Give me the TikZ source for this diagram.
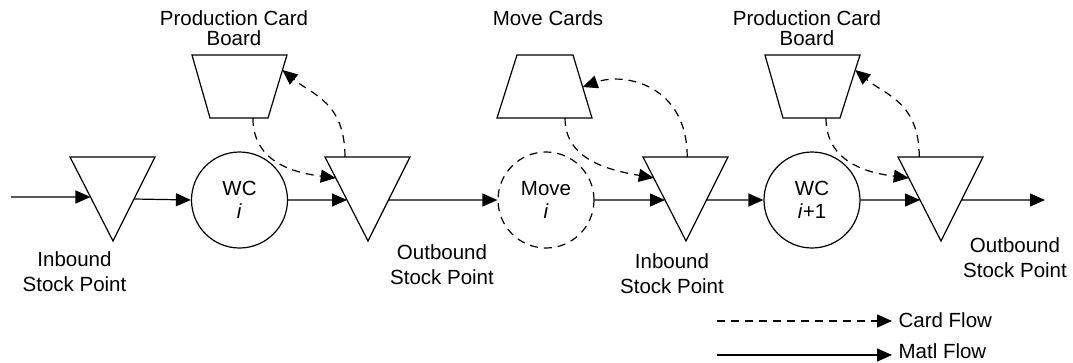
\documentclass[tikz,border=0pt]{standalone}
\usepackage{fontspec}
\setmainfont{Liberation Sans}
\usetikzlibrary{arrows.meta,calc}

\begin{document}
\begin{tikzpicture}[x=1pt,y=-1pt,
  line width=1.2pt,
  flow/.style={-{Triangle[length=15pt,width=13pt]}},
  card/.style={flow, dash pattern=on 8pt off 6pt},
  shapeline/.style={draw, line join=miter},
  station/.style={draw, circle, minimum size=96pt, inner sep=0pt, align=center,
                  font=\fontsize{20.5}{23}\selectfont},
  lbl/.style={align=center, inner sep=0pt, font=\fontsize{20.5}{25}\selectfont},
  boardlbl/.style={lbl, font=\fontsize{20.5}{20}\selectfont},
  keylbl/.style={anchor=base west, inner sep=0pt, font=\fontsize{20.5}{20}\selectfont},
]
\useasboundingbox (0,0) rectangle (1073,362);

% ---- stock points (downward triangles) ----
\coordinate (t1-l) at (70,157);  \coordinate (t1-r) at (155,157); \coordinate (t1-b) at (113,241);
\coordinate (t2-l) at (325,157); \coordinate (t2-r) at (410,157); \coordinate (t2-b) at (368,241);
\coordinate (t3-l) at (643,157); \coordinate (t3-r) at (728,157); \coordinate (t3-b) at (686,241);
\coordinate (t4-l) at (898,157); \coordinate (t4-r) at (983,157); \coordinate (t4-b) at (941,241);
\foreach \t in {t1,t2,t3,t4}
  \draw[shapeline] (\t-l) -- (\t-r) -- (\t-b) -- cycle;

% ---- card boards (trapezoids) ----
\coordinate (p1-tl) at (192,55); \coordinate (p1-tr) at (287,55);
\coordinate (p1-br) at (268,118); \coordinate (p1-bl) at (210,118);
\coordinate (p2-tl) at (517,55); \coordinate (p2-tr) at (573,55);
\coordinate (p2-br) at (592,118); \coordinate (p2-bl) at (497,118);
\coordinate (p3-tl) at (765,55); \coordinate (p3-tr) at (860,55);
\coordinate (p3-br) at (840,118); \coordinate (p3-bl) at (783,118);
\foreach \p in {p1,p2,p3}
  \draw[shapeline] (\p-tl) -- (\p-tr) -- (\p-br) -- (\p-bl) -- cycle;

% ---- work centres and move step ----
\node[station] (wc1) at (239.5,200) {WC\\\textit{i}};
\node[station, dash pattern=on 8pt off 6pt] (mv) at (546,200) {Move\\\textit{i}};
\node[station] (wc2) at (812,200) {WC\\\textit{i}+1};

% ---- attachment points on the triangle edges ----
\coordinate (t1-in)  at ($(t1-l)!0.476!(t1-b)$);
\coordinate (t1-out) at ($(t1-r)!0.5!(t1-b)$);
\foreach \t in {t2,t3,t4}{
  \coordinate (\t-in)   at ($(\t-l)!0.512!(\t-b)$);
  \coordinate (\t-out)  at ($(\t-r)!0.512!(\t-b)$);
  \coordinate (\t-card) at ($(\t-l)!0.25!(\t-b)$);
}
\coordinate (t2-top) at ($(t2-l)!0.235!(t2-r)$);
\coordinate (t3-top) at ($(t3-l)!0.52!(t3-r)$);
\coordinate (t4-top) at ($(t4-l)!0.25!(t4-r)$);

% ---- attachment points on the boards ----
\coordinate (p1-bot) at ($(p1-bl)!0.74!(p1-br)$);
\coordinate (p1-rt)  at ($(p1-tr)!0.238!(p1-br)$);
\coordinate (p2-bot) at ($(p2-bl)!0.716!(p2-br)$);
\coordinate (p2-rt)  at ($(p2-tr)!0.508!(p2-br)$);
\coordinate (p3-bot) at ($(p3-bl)!0.754!(p3-br)$);
\coordinate (p3-rt)  at ($(p3-tr)!0.238!(p3-br)$);

\coordinate (src) at (11,197);
\coordinate (snk) at (1045,200);

% ---- material flow ----
\draw[flow] (src) -- (t1-in);
\draw[flow] (t1-out) -- (wc1.west);
\draw[flow] (wc1.east) -- (t2-in);
\draw[flow] (t2-out) -- (mv.west);
\draw[flow] (mv.east) -- (t3-in);
\draw[flow] (t3-out) -- (wc2.west);
\draw[flow] (wc2.east) -- (t4-in);
\draw[flow] (t4-out) -- (snk);

% ---- card flow ----
\draw[card] (p1-bot) .. controls +(0,45) and +(-40,-5) .. (t2-card);
\draw[card] (t2-top) .. controls +(0,-55) and +(30,25) .. (p1-rt);
\draw[card] (p2-bot) .. controls +(0,42) and +(-45,-8) .. (t3-card);
\draw[card] (t3-top) .. controls +(0,-72) and +(42,-15) .. (p2-rt);
\draw[card] (p3-bot) .. controls +(0,45) and +(-40,-5) .. (t4-card);
\draw[card] (t4-top) .. controls +(0,-55) and +(30,25) .. (p3-rt);

% ---- labels ----
\node[boardlbl] (lb1) at (234,28) {Production Card\\Board};
\node[boardlbl] (lb2) at (548,18) {Move Cards};
\node[boardlbl] (lb3) at (807,28) {Production Card\\Board};
\node[lbl] (ls1) at (74.5,272) {Inbound\\Stock Point};
\node[lbl] (ls2) at (442,265) {Outbound\\Stock Point};
\node[lbl] (ls3) at (672,274) {Inbound\\Stock Point};
\node[lbl] (ls4) at (1015,258) {Outbound\\Stock Point};

% ---- key ----
\coordinate (k1a) at (717,321); \coordinate (k1b) at (892,321);
\coordinate (k2a) at (717,355); \coordinate (k2b) at (892,355);
\draw[card] (k1a) -- (k1b);
\draw[flow] (k2a) -- (k2b);
\node[keylbl] (kt1) at (898,327) {Card Flow};
\node[keylbl] (kt2) at (898,358) {Matl Flow};
\end{tikzpicture}
\end{document}
